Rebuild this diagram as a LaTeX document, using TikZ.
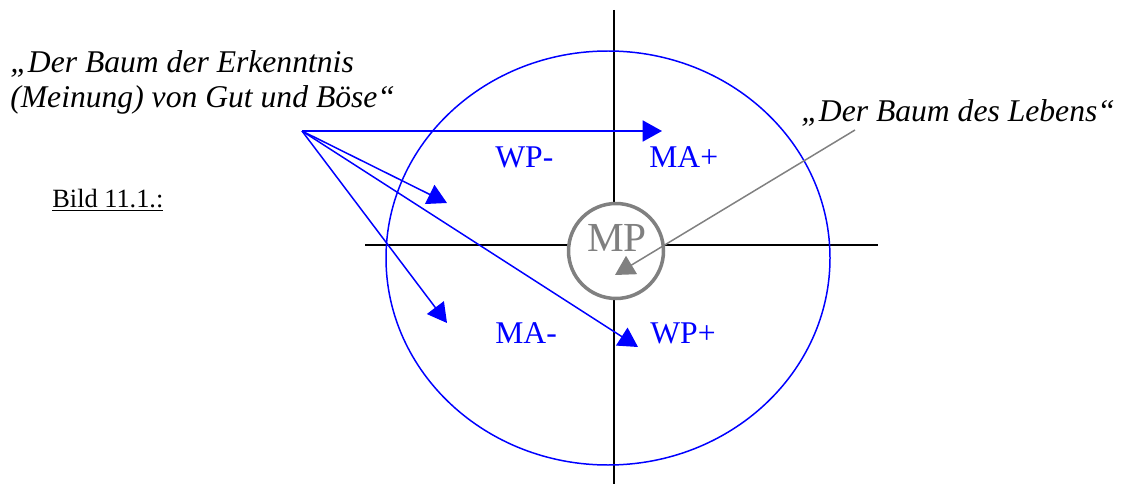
\documentclass[tikz,border=0pt]{standalone}
\usepackage{fontspec}
\setmainfont{Liberation Serif}
\usetikzlibrary{arrows.meta}

\begin{document}
\begin{tikzpicture}[x=0.02cm, y=-0.02cm, every node/.style={inner sep=0pt},
    quad/.style={text=blue, font=\fontsize{18}{21}\selectfont, anchor=base west},
    quote/.style={font=\fontsize{18}{22}\selectfont\itshape, anchor=base west},
    bluearr/.style={blue, line width=0.85pt, -{Triangle[length=11pt,width=12pt]}}]
  \useasboundingbox (0,0) rectangle (1125,486);
  % Axes
  \coordinate (top) at (614,10);
  \coordinate (bot) at (614,484);
  \coordinate (lft) at (365,245);
  \coordinate (rgt) at (878,245);
  \draw[line width=1.1pt] (top) -- (bot);
  \draw[line width=1.1pt] (lft) -- (rgt);
  % Ellipse round the cross
  \draw[blue, line width=0.85pt] (608,258) ellipse [x radius=222, y radius=207];
  % Centre circle
  \node[circle, draw=gray, line width=2pt, minimum size=1.9cm, fill=white] (mp) at (616,251) {};
  \node[text=gray, font=\fontsize{23.5}{24}\selectfont, anchor=base] (mptext) at (617,252) {MP};
  % Quadrant labels
  \node[quad] (wpm) at (495,168) {WP-};
  \node[quad] (map) at (649,168) {MA+};
  \node[quad] (mam) at (495,343) {MA-};
  \node[quad] (wpp) at (650,343) {WP+};
  % Texts
  \node[quote] (erk1) at (10,73) {„Der Baum der Erkenntnis};
  \node[quote] (erk2) at (10,108) {(Meinung) von Gut und Böse“};
  \node[quote] (leben) at (801,122) {„Der Baum des Lebens“};
  \node[font=\fontsize{15}{18}\selectfont, anchor=base west] (bild) at (52,208) {\underline{Bild 11.1.:}};
  % Arrows from the tree of knowledge
  \coordinate (src) at (302,131);
  \foreach \n/\tx/\ty in {ea/662/131, eb/447/203, ec/447/323, ed/638/347} {
    \coordinate (\n) at (\tx,\ty);
    \draw[bluearr] (src) -- (\n);
  }
  % Arrow from the tree of life
  \coordinate (lp) at (855,130);
  \coordinate (mptip) at (615,275);
  \draw[gray, line width=0.85pt, -{Triangle[length=11pt,width=12pt]}] (lp) -- (mptip);
\end{tikzpicture}
\end{document}
